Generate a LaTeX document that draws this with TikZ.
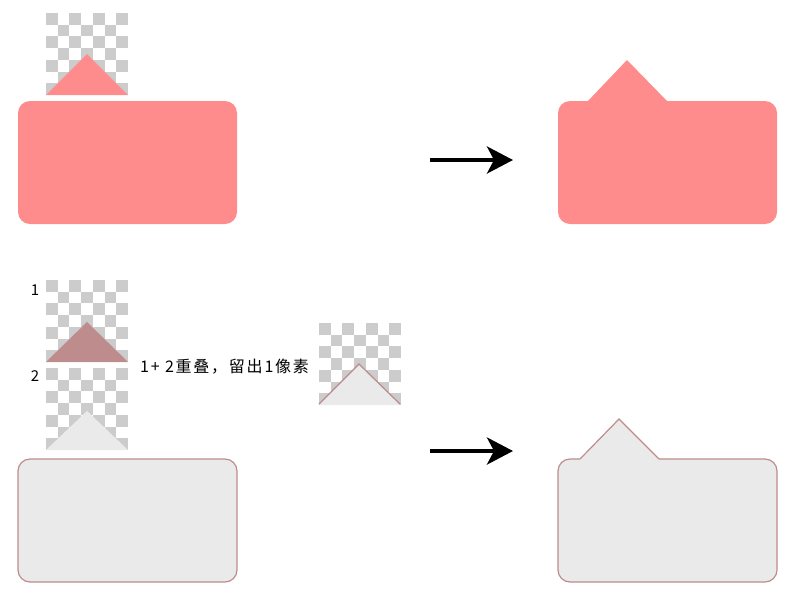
\documentclass[tikz,border=0pt]{standalone}
\usepackage{fontspec}
\newfontfamily\cjk{Noto Sans CJK SC}
\newfontfamily\cjkwide[LetterSpace=11]{Noto Sans CJK SC}
\usetikzlibrary{arrows.meta}
\definecolor{tippink}{RGB}{255,140,140}
\definecolor{tiprose}{RGB}{190,140,140}
\definecolor{tipgray}{RGB}{234,234,234}
\definecolor{checkgray}{RGB}{204,204,204}

% transparent-background pattern, 7x7 squares
\newcommand{\checkerbox}[2]{%
  \foreach \i in {0,...,6}{
    \foreach \j in {0,...,6}{
      \pgfmathparse{int(mod(\i+\j,2))}
      \ifnum\pgfmathresult=0
        \fill[checkgray] ({#1+\i*82/7},{#2+\j*82/7}) rectangle ++(82/7,82/7);
      \fi
    }
  }}

\begin{document}
\begin{tikzpicture}[x=1pt,y=-1pt,
    pinkbox/.style={fill=tippink, rounded corners=12pt},
    edgeline/.style={draw=tiprose, line width=1.2pt},
    bigarrow/.style={line width=4pt, -{Stealth[length=26pt,width=27pt,inset=7pt]}},
    lbl/.style={font=\cjk\fontsize{15}{15}\selectfont, inner sep=0pt}]
    \useasboundingbox (0,0) rectangle (800,590);

    % Top row: pink bubble
    \checkerbox{46}{13}
    \fill[tippink] (46,95) -- (87,54) -- (128,95) -- cycle;
    \fill[pinkbox] (18,101) rectangle (237,224);

    \coordinate (topfrom) at (430,160);
    \coordinate (topto) at (513,160);
    \draw[bigarrow] (topfrom) -- (topto);

    \fill[pinkbox] (558,101) rectangle (777,224);
    \fill[tippink] (587,102) -- (627,60) -- (668,102) -- cycle;

    % Bottom row: bordered bubble
    \node[lbl] (one) at (35,290) {1};
    \checkerbox{46}{280}
    \fill[tiprose] (46,362) -- (87,322) -- (128,362) -- cycle;

    \node[lbl] (two) at (35,376) {2};
    \checkerbox{46}{368}
    \fill[tipgray] (46,450) -- (87,411) -- (128,450) -- cycle;

    \node[lbl, anchor=west, font=\cjkwide\fontsize{16}{16}\selectfont] (note) at (140,367) {1+ 2重叠，留出1像素};

    \checkerbox{319}{323}
    \fill[tipgray] (319,405) -- (359,365) -- (400,405) -- cycle;
    \draw[edgeline] (319,404) -- (359,364) -- (400,404);

    \filldraw[fill=tipgray, edgeline, rounded corners=12pt] (18,459) rectangle (237,582);

    \coordinate (botfrom) at (430,451);
    \coordinate (botto) at (513,451);
    \draw[bigarrow] (botfrom) -- (botto);

    \fill[tipgray, rounded corners=12pt] (558,459) rectangle (777,582);
    \fill[tipgray] (580,460) -- (619,419) -- (659,460) -- cycle;
    \draw[edgeline, rounded corners=12pt] (580,459) -- (558,459) -- (558,582) -- (777,582) -- (777,459) -- (659,459);
    \draw[edgeline] (580,459) -- (619,419) -- (659,459);
\end{tikzpicture}
\end{document}
